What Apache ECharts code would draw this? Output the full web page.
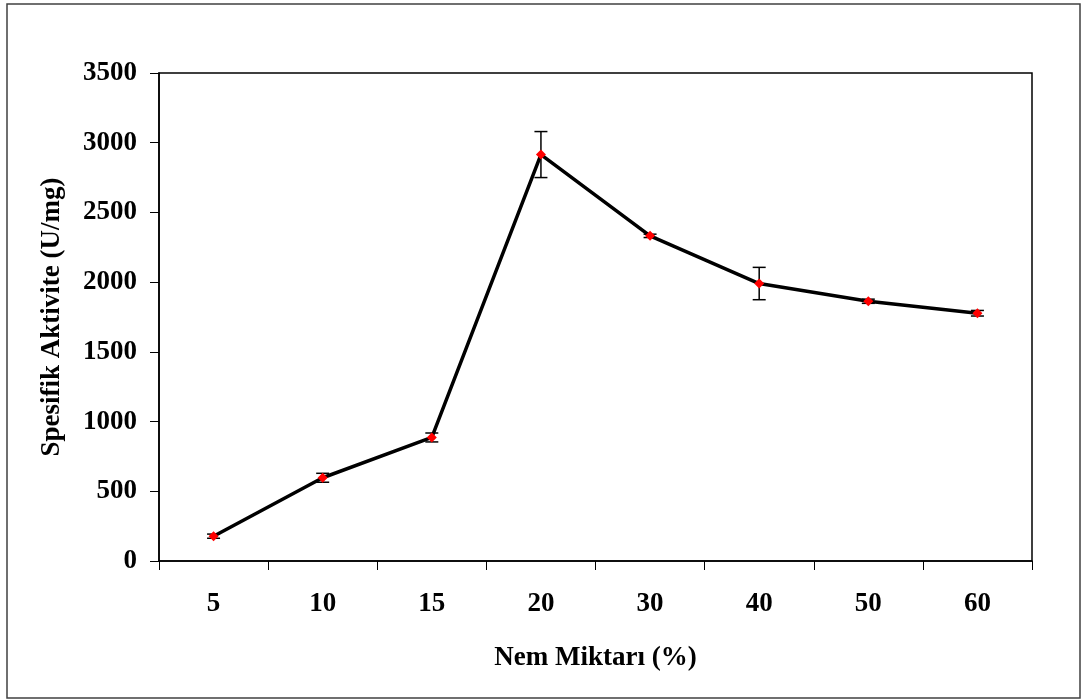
<!DOCTYPE html>
<html>
<head>
<meta charset="utf-8">
<script src="https://cdn.jsdelivr.net/npm/echarts@6/dist/echarts.min.js"></script>
<style>
html,body{margin:0;padding:0;background:#fff;}
#c{width:1086px;height:700px;}
</style>
</head>
<body>
<div id="c"></div>
<script>
const categories = ['5', '10', '15', '20', '30', '40', '50', '60'];
const activity = [178, 597, 886, 2915, 2332, 1990, 1863, 1777];
const errors = [15, 32, 32, 165, 12, 116, 15, 20];
const yTicks = { min: 0, max: 3500, interval: 500 };

const FONT = '"Liberation Serif", "Times New Roman", serif';
const chart = echarts.init(document.getElementById('c'), null, { renderer: 'canvas' });

const errData = categories.map((c, i) => [i, activity[i] - errors[i], activity[i] + errors[i]]);

chart.setOption({
  animation: false,
  backgroundColor: '#ffffff',
  graphic: [{
    type: 'rect',
    shape: { x: 7, y: 4, width: 1073, height: 694 },
    style: { fill: 'none', stroke: '#404040', lineWidth: 1.5 },
    silent: true
  }],
  grid: {
    left: 159, right: 54, top: 73, bottom: 139,
    show: true, borderColor: '#000', borderWidth: 1.5, backgroundColor: 'transparent'
  },
  xAxis: {
    type: 'category',
    data: categories,
    boundaryGap: true,
    name: 'Nem Miktarı (%)',
    nameLocation: 'middle',
    nameGap: 84,
    nameTextStyle: { fontFamily: FONT, fontWeight: 'bold', fontSize: 27, color: '#000' },
    axisLine: { lineStyle: { color: '#000', width: 1.5 } },
    axisTick: { show: true, inside: false, length: 9, lineStyle: { color: '#000', width: 1 } },
    axisLabel: { margin: 30, fontFamily: FONT, fontWeight: 'bold', fontSize: 27, color: '#000' },
    splitLine: { show: false }
  },
  yAxis: {
    type: 'value',
    min: yTicks.min, max: yTicks.max, interval: yTicks.interval,
    name: 'Spesifik Aktivite (U/mg)',
    nameLocation: 'middle',
    nameGap: 93,
    nameTextStyle: { fontFamily: FONT, fontWeight: 'bold', fontSize: 27, color: '#000' },
    axisLine: { show: true, lineStyle: { color: '#000', width: 1.5 } },
    axisTick: { show: true, inside: false, length: 9, lineStyle: { color: '#000', width: 1 } },
    axisLabel: {
      margin: 22, fontFamily: FONT, fontWeight: 'bold', fontSize: 27, color: '#000',
      formatter: function (v) { return String(v); }
    },
    splitLine: { show: false }
  },
  series: [
    {
      type: 'custom',
      name: 'err',
      data: errData,
      z: 2,
      renderItem: function (params, api) {
        const x = api.value(0);
        const lo = api.coord([x, api.value(1)]);
        const hi = api.coord([x, api.value(2)]);
        const hw = 6.5;
        const st = { stroke: '#000', lineWidth: 1.5, fill: 'none' };
        return {
          type: 'group',
          children: [
            { type: 'line', shape: { x1: lo[0], y1: lo[1], x2: hi[0], y2: hi[1] }, style: st },
            { type: 'line', shape: { x1: lo[0] - hw, y1: lo[1], x2: lo[0] + hw, y2: lo[1] }, style: st },
            { type: 'line', shape: { x1: hi[0] - hw, y1: hi[1], x2: hi[0] + hw, y2: hi[1] }, style: st }
          ]
        };
      }
    },
    {
      type: 'line',
      data: activity,
      z: 3,
      symbol: 'diamond',
      symbolSize: 10,
      showSymbol: true,
      lineStyle: { color: '#000', width: 3.5 },
      itemStyle: { color: '#ff0000', borderWidth: 0 }
    }
  ]
});
</script>
</body>
</html>
